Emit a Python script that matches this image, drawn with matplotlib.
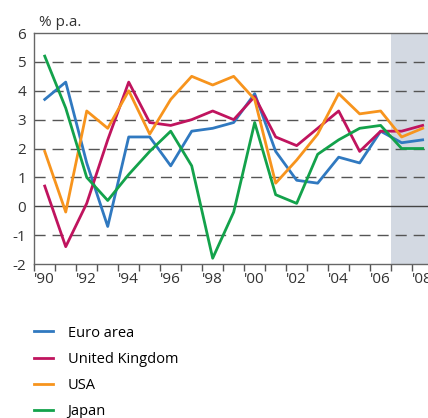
import matplotlib
matplotlib.use("Agg")
import matplotlib.pyplot as plt
import numpy as np

ANNEES = list(range(1990, 2009))
ZONE_EURO = [3.7, 4.3, 1.5, -0.7, 2.4, 2.4, 1.4, 2.6, 2.7, 2.9, 3.9, 1.9, 0.9, 0.8, 1.7, 1.5, 2.6, 2.2, 2.3]
ROYAUME_UNI = [0.7, -1.4, 0.1, 2.3, 4.3, 2.9, 2.8, 3.0, 3.3, 3.0, 3.8, 2.4, 2.1, 2.7, 3.3, 1.9, 2.6, 2.6, 2.8]
USA = [1.9, -0.2, 3.3, 2.7, 4.0, 2.5, 3.7, 4.5, 4.2, 4.5, 3.7, 0.8, 1.6, 2.5, 3.9, 3.2, 3.3, 2.4, 2.7]
JAPON = [5.2, 3.4, 1.0, 0.2, 1.1, 1.9, 2.6, 1.4, -1.8, -0.2, 2.9, 0.4, 0.1, 1.8, 2.3, 2.7, 2.8, 2.0, 2.0]
SERIES = ["Euro area", "United Kingdom", "USA", "Japan"]
COULEURS = ["#3079c0", "#c0145e", "#f7941d", "#13a24b"]
DEBUT_PREVISION = 2007
Y_TICKS = list(range(-2, 7))
X_LABELS = ["'90", "'92", "'94", "'96", "'98", "'00", "'02", "'04", "'06", "'08"]

plt.rcParams["font.family"] = ["Open Sans", "DejaVu Sans"]

fig = plt.figure(figsize=(4.28, 4.18), dpi=100)
ax = fig.add_axes([0.08, 0.3684, 0.932, 0.5526])

ax.axvspan(DEBUT_PREVISION - 0.5, ANNEES[-1] + 0.5, color="#d3d9e2", lw=0, zorder=0)
for y in Y_TICKS[1:-1]:
    if y == 0:
        ax.axhline(y, color="#444444", lw=1.0, zorder=1)
    else:
        ax.axhline(y, color="#555555", lw=1.0, ls=(0, (8, 5)), zorder=1)

for nom, valeurs, couleur in zip(SERIES, [ZONE_EURO, ROYAUME_UNI, USA, JAPON], COULEURS):
    ax.plot(ANNEES, valeurs, color=couleur, lw=2.0, label=nom, zorder=3)

ax.set_xlim(ANNEES[0] - 0.5, ANNEES[-1] + 0.5)
ax.set_ylim(-2, 6)
ax.set_yticks(Y_TICKS)
ax.set_yticklabels([str(v) for v in Y_TICKS], fontsize=11, color="#333333")
ax.tick_params(axis="y", length=0, pad=6)

ax.set_xticks(ANNEES[::2])
ax.set_xticklabels(X_LABELS, fontsize=11, color="#333333")
ax.set_xticks(np.arange(ANNEES[0] - 0.5, ANNEES[-1] + 1), minor=True)
ax.tick_params(axis="x", which="major", length=0, pad=6)
ax.tick_params(axis="x", which="minor", length=5, width=1, color="#555555", direction="out")

for cote in ["left", "top", "bottom"]:
    ax.spines[cote].set_color("#666666")
    ax.spines[cote].set_linewidth(1.0)
ax.spines["right"].set_visible(False)

fig.text(0.09, 0.945, "% p.a.", fontsize=11, color="#333333", va="center", ha="left")

fig.legend(loc="upper left", bbox_to_anchor=(0.066, 0.235), frameon=False, fontsize=10.5,
           handlelength=1.3, handletextpad=1.0, labelspacing=0.76, borderaxespad=0)

fig.savefig("out.png", dpi=100)
